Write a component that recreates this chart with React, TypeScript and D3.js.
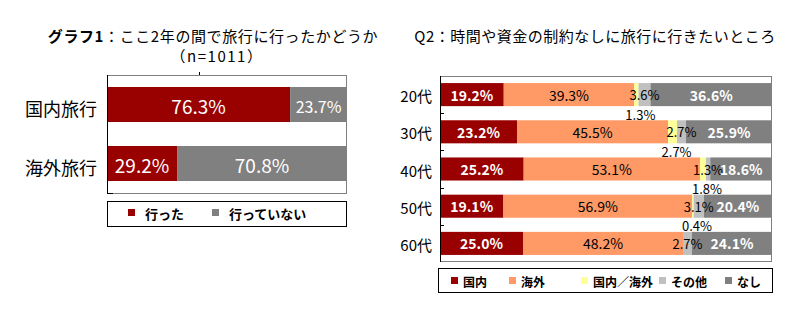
import React from "react";
import * as d3 from "d3";

const leftCategories = ["国内旅行", "海外旅行"];
const leftWent = [76.3, 29.2];
const leftNotWent = [23.7, 70.8];
const leftSeriesNames = ["行った", "行っていない"];

const ageGroups = ["20代", "30代", "40代", "50代", "60代"];
const domestic = [19.2, 23.2, 25.2, 19.1, 25.0];
const overseas = [39.3, 45.5, 53.1, 56.9, 48.2];
const both = [1.3, 2.7, 1.8, 0.4, 0];
const other = [3.6, 2.7, 1.3, 3.1, 2.7];
const none = [36.6, 25.9, 18.6, 20.4, 24.1];
const rightSeriesNames = ["国内", "海外", "国内／海外", "その他", "なし"];

const FONT = "'Noto Sans CJK JP', 'Noto Sans', sans-serif";
const C_RED = "#990000";
const C_GREY = "#808080";
const rightColors = ["#990000", "#FF9966", "#FFFF99", "#C0C0C0", "#808080"];

export default function App() {
  // Left chart
  const lx = d3.scaleLinear().domain([0, 100]).range([107, 347]);
  const ly = d3.scaleBand().domain(leftCategories).range([75, 193]).paddingInner(0.407).paddingOuter(0.2035);

  // Right chart
  const rx = d3.scaleLinear().domain([0, 100]).range([440, 772]);
  const ry = d3.scaleBand().domain(ageGroups).range([76, 262]).paddingInner(0.38).paddingOuter(0.19);
  const rightSeries = [domestic, overseas, both, other, none];

  const rows = ageGroups.map((g, i) => {
    let acc = 0;
    const segs = rightSeries.map((s, k) => {
      const x0 = acc;
      acc += s[i];
      return { k, x0, x1: acc, v: s[i] };
    });
    return { g, segs };
  });

  return (
    <svg width={804} height={324} style={{ display: "block", position: "absolute", left: 0, top: 0 }} fontFamily={FONT}>
      <rect width={804} height={324} fill="#fff" />
      {/* Left title */}
      <text x={213} y={42} textAnchor="middle" fontSize={15} fill="#000" letterSpacing={0.6}>
        <tspan fontWeight="bold">グラフ1</tspan>
        <tspan>：ここ2年の間で旅行に行ったかどうか</tspan>
      </text>
      <text x={217} y={62} textAnchor="middle" fontSize={15} fill="#000" letterSpacing={1.5}>
        （n=1011）
      </text>

      {/* Left frame */}
      <line x1={107} x2={347} y1={75.5} y2={75.5} stroke="#808080" />
      <line x1={346.5} x2={346.5} y1={75} y2={193} stroke="#808080" />
      <line x1={107} x2={347} y1={193.5} y2={193.5} stroke="#808080" />
      <line x1={199.5} x2={199.5} y1={72} y2={75} stroke="#000" />
      {leftCategories.map((c, i) => {
        const y = ly(c)!;
        const h = ly.bandwidth();
        return (
          <g key={c}>
            <rect x={lx(0)} y={y} width={lx(leftWent[i]) - lx(0)} height={h} fill={C_RED} />
            <rect x={lx(leftWent[i])} y={y} width={lx(leftWent[i] + leftNotWent[i]) - lx(leftWent[i])} height={h} fill={C_GREY} />
            <text x={(lx(0) + lx(leftWent[i])) / 2} y={y + h / 2 + 1} textAnchor="middle" dominantBaseline="central" fontSize={19} fill="#fff">
              {leftWent[i].toFixed(1)}%
            </text>
            <text
              x={(lx(leftWent[i]) + lx(100)) / 2}
              y={y + h / 2 + 1}
              textAnchor="middle"
              dominantBaseline="central"
              fontSize={leftNotWent[i] < 30 ? 16 : 19}
              fill="#fff"
            >
              {leftNotWent[i].toFixed(1)}%
            </text>
            <text x={97} y={y + h / 2 + 3} textAnchor="end" dominantBaseline="central" fontSize={18} fill="#000">
              {c}
            </text>
          </g>
        );
      })}
      <line x1={107.5} x2={107.5} y1={75} y2={194} stroke="#000" />
      <line x1={107} x2={113} y1={193.5} y2={193.5} stroke="#000" />

      {/* Left legend */}
      <rect x={107.5} y={201.5} width={239} height={25} fill="none" stroke="#000" />
      {leftSeriesNames.map((n, i) => {
        const sx = i === 0 ? 128 : 212;
        return (
          <g key={n}>
            <rect x={sx} y={209} width={7} height={7} fill={i === 0 ? C_RED : C_GREY} />
            <text x={sx + 17} y={213} dominantBaseline="central" fontSize={13} fontWeight="bold" fill="#000">
              {n}
            </text>
          </g>
        );
      })}

      {/* Right title */}
      <text x={595} y={42} textAnchor="middle" fontSize={15} fill="#000" letterSpacing={0.5}>
        Q2：時間や資金の制約なしに旅行に行きたいところ
      </text>

      {/* Right frame */}
      <line x1={440} x2={772} y1={76.5} y2={76.5} stroke="#808080" />
      <line x1={771.5} x2={771.5} y1={76} y2={262} stroke="#808080" />
      <line x1={440} x2={772} y1={261.5} y2={261.5} stroke="#808080" />

      {rows.map((r, i) => {
        const y = ry(r.g)!;
        const h = ry.bandwidth();
        return (
          <g key={r.g}>
            {r.segs.map((s) =>
              s.v > 0 ? (
                <rect key={s.k} x={rx(s.x0)} y={y} width={rx(s.x1) - rx(s.x0)} height={h} fill={rightColors[s.k]} />
              ) : null
            )}
            {r.segs.map((s) => {
              if (s.v <= 0) return null;
              const cx = (rx(s.x0) + rx(s.x1)) / 2;
              const label = s.v.toFixed(1) + "%";
              if (s.k === 2) {
                return (
                  <text key={"t" + s.k} x={cx + 4} y={y + h + 8} textAnchor="middle" dominantBaseline="central" fontSize={13} fill="#000">
                    {label}
                  </text>
                );
              }
              const white = s.k === 0 || s.k === 4;
              return (
                <text
                  key={"t" + s.k}
                  x={cx}
                  y={y + h / 2}
                  textAnchor="middle"
                  dominantBaseline="central"
                  fontSize={s.k === 3 ? 13 : 14}
                  fontWeight={white ? "bold" : "normal"}
                  fill={white ? "#fff" : "#000"}
                >
                  {label}
                </text>
              );
            })}
            <text x={432} y={y + h / 2 + 1} textAnchor="end" dominantBaseline="central" fontSize={15} fill="#000">
              {r.g}
            </text>
          </g>
        );
      })}
      {ageGroups.slice(1).map((g) => {
        const yb = ry(g)! - (ry.step() - ry.bandwidth()) / 2;
        return <line key={"tk" + g} x1={440} x2={444} y1={Math.round(yb) + 0.5} y2={Math.round(yb) + 0.5} stroke="#000" />;
      })}
      <line x1={440.5} x2={440.5} y1={76} y2={262} stroke="#000" />

      {/* Right legend */}
      <rect x={438.5} y={268.5} width={334} height={24} fill="none" stroke="#000" />
      {rightSeriesNames.map((n, i) => {
        const sx = [451, 509, 581, 659, 725][i];
        return (
          <g key={n}>
            <rect x={sx} y={277} width={7} height={7} fill={rightColors[i]} />
            <text x={sx + 12} y={281} dominantBaseline="central" fontSize={12} fontWeight="bold" fill="#000">
              {n}
            </text>
          </g>
        );
      })}
    </svg>
  );
}
